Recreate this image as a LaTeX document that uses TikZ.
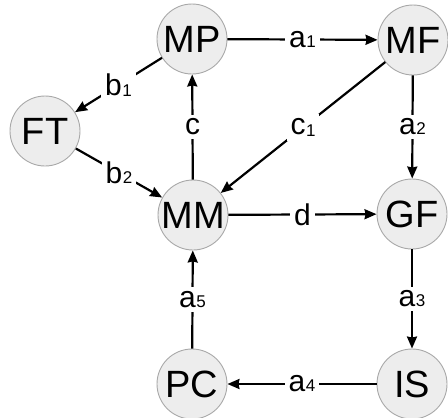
\documentclass[tikz,border=0pt]{standalone}
\usepackage{fontspec}
\setmainfont{Liberation Sans}
\usetikzlibrary{arrows.meta}
\definecolor{nodefill}{HTML}{EDEDED}
\definecolor{nodeline}{HTML}{A8A8A8}
% edge label: letter with a small index beside it
\newcommand{\idx}[2]{#1\kern0.5pt{\fontsize{17}{17}\selectfont #2}}

\begin{document}
\begin{tikzpicture}[x=1pt,y=-1pt,
  state/.style={circle, draw=nodeline, fill=nodefill, line width=0.9pt,
    minimum size=70pt, inner sep=0pt, font=\fontsize{38}{44}\selectfont},
  flow/.style={line width=2.2pt, -{Stealth[length=12pt,width=10pt,inset=1pt]}},
  tag/.style={fill=white, inner sep=4pt, font=\fontsize{30}{34}\selectfont}]
\useasboundingbox (0,0) rectangle (448,418);

\node[state] (MP) at (192,39)  {MP};
\node[state] (MF) at (413,40)  {MF};
\node[state] (FT) at (45,131)  {FT};
\node[state] (MM) at (193,215) {MM};
\node[state] (GF) at (412,214) {GF};
\node[state] (PC) at (192,384) {PC};
\node[state] (IS) at (412,384) {IS};

\draw[flow] (MP) -- node[tag] {\idx{a}{1}} (MF);
\draw[flow] (MF) -- node[tag] {\idx{a}{2}} (GF);
\draw[flow] (MF) -- node[tag] {\idx{c}{\raisebox{-2pt}{1}}} (MM);
\draw[flow] (MP) -- node[tag] {\idx{b}{\raisebox{-1pt}{1}}} (FT);
\draw[flow] (FT) -- node[tag] {\idx{b}{2}} (MM);
\draw[flow] (MM) -- node[tag] {c} (MP);
\draw[flow] (MM) -- node[tag] {d} (GF);
\draw[flow] (GF) -- node[tag] {\idx{a}{3}} (IS);
\draw[flow] (IS) -- node[tag] {\idx{a}{4}} (PC);
\draw[flow] (PC) -- node[tag] {\idx{a}{5}} (MM);
\end{tikzpicture}
\end{document}
